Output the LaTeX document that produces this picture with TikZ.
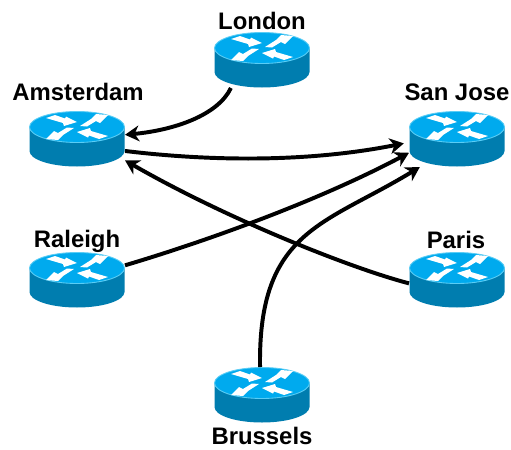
\documentclass[tikz,border=0pt]{standalone}
\usepackage{fontspec}
\setmainfont{Liberation Sans}
\usetikzlibrary{arrows.meta}
\definecolor{routertop}{RGB}{0,170,238}
\definecolor{routerside}{RGB}{0,125,175}
\definecolor{routerrim}{RGB}{90,205,245}
\tikzset{
	routerbox/.style={minimum width=1.92cm, minimum height=1.12cm, inner sep=0pt, outer sep=0pt},
	routername/.style={font=\fontsize{13.6}{15}\selectfont\bfseries, inner sep=0pt},
	link/.style={line width=2.25pt, -{Stealth[length=8pt,width=9pt,inset=2.5pt]}}
}
% router icon, centre of the top disc at (#1,#2)
\def\routericon(#1,#2){
	\fill[routerside] (#1-47.5,#2) -- (#1-47.5,#2+24) arc (180:0:47.5 and 15.5) -- (#1+47.5,#2) -- cycle;
	\draw[routerrim, line width=0.5pt, fill=routertop] (#1,#2) ellipse (47.5 and 15.5);
	\foreach \s in {1,-1}{
		\fill[white, shift={(#1,#2)}, xscale=\s, yscale=\s] (-22,-12) -- (-12,-8.5) -- (-11,-10.5) -- (0,-5) -- (-13,-1) -- (-14,-4) -- (-31,-9) -- cycle;
		\fill[white, shift={(#1,#2)}, xscale=\s, yscale=\s] (3,-1) -- (14,-8) -- (19,-13) -- (31,-12) -- (23,-4) -- (19,-6) -- (10,-0.5) -- cycle;
	}
}

\begin{document}
\begin{tikzpicture}[x=0.02cm, y=-0.02cm]
	\useasboundingbox (0,0) rectangle (511,450);

	\routericon(262,48)
	\routericon(77,127)
	\routericon(457,127)
	\routericon(77,268)
	\routericon(457,268)
	\routericon(262,383)

	\node[routerbox] (london) at (262,60) {};
	\node[routerbox] (amsterdam) at (77,139) {};
	\node[routerbox] (sanjose) at (457,139) {};
	\node[routerbox] (raleigh) at (77,280) {};
	\node[routerbox] (paris) at (457,280) {};
	\node[routerbox] (brussels) at (262,395) {};

	\node[routername] (londonname) at (262,21) {London};
	\node[routername] (amsterdamname) at (78,92) {Amsterdam};
	\node[routername] (sanjosename) at (457,92) {San Jose};
	\node[routername] (raleighname) at (77,241) {Raleigh};
	\node[routername] (parisname) at (456,240) {Paris};
	\node[routername] (brusselsname) at (262,436) {Brussels};

	\draw[link] (london.222) .. controls (218,115) and (175,130) .. (amsterdam.5);
	\draw[link, shorten >=3pt] (amsterdam.-14) .. controls (200,160) and (300,164) .. (sanjose.184);
	\draw[link] (paris.184) .. controls (350,268) and (225,218) .. (amsterdam.-24);
	\draw[link] (raleigh.17) .. controls (210,240) and (320,200) .. (sanjose.196);
	\draw[link] (brussels.94) .. controls (258,230) and (325,225) .. (sanjose.217);
\end{tikzpicture}
\end{document}
